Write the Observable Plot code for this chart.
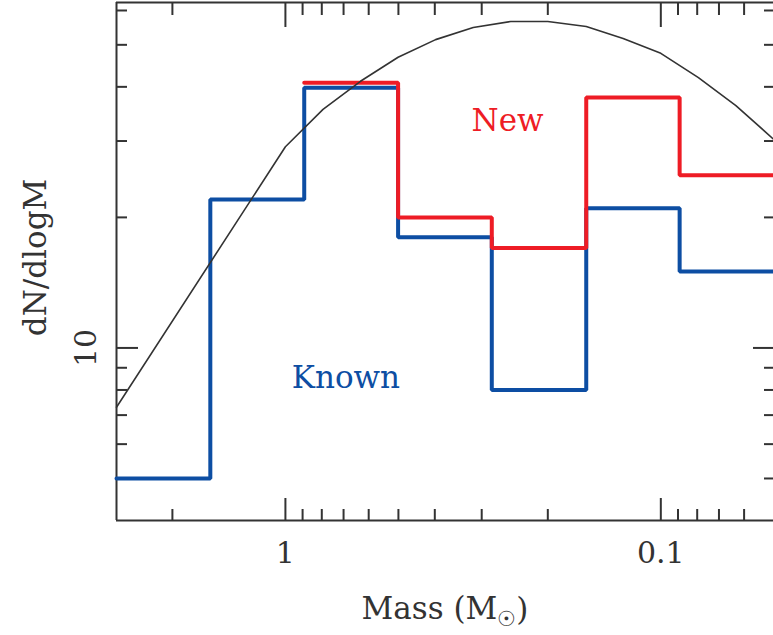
<!DOCTYPE html>
<html><head><meta charset="utf-8">
<script src="https://cdn.jsdelivr.net/npm/d3@7"></script>
<script src="https://cdn.jsdelivr.net/npm/@observablehq/plot@0.6"></script>
<style>body{margin:0;background:#fff} svg{display:block}</style>
</head><body><div id="chart"></div>
<script>
const massDomain = [2.818, 0.0501];
const countDomain = [4, 62.6];
const binEdges = [2.818, 1.585, 0.891, 0.501, 0.282, 0.158, 0.0891, 0.0501];
const knownCounts = [5.0, 22.0, 39.8, 18.0, 8.0, 21.0, 15.0];
const newCounts = [null, null, 40.9, 20.0, 17.0, 37.8, 25.0];
const imfMass = [2.818, 1, 0.794, 0.631, 0.501, 0.398, 0.316, 0.251, 0.2, 0.158, 0.126, 0.1, 0.0794, 0.0631, 0.0501];
const imfValue = [7.3, 29.1, 35.5, 41.2, 46.8, 51.4, 54.8, 56.6, 56.6, 55.1, 51.7, 47.8, 42.0, 36.2, 30.3];
const xMajorTicks = [1, 0.1];
const xMinorTicks = [2, 0.9, 0.8, 0.7, 0.6, 0.5, 0.4, 0.3, 0.2, 0.09, 0.08, 0.07, 0.06];
const yMajorTicks = [10];
const yMinorTicks = [5, 6, 7, 8, 9, 20, 30, 40, 50, 60];
const xTickLabels = ["1", "0.1"];
const yTickLabels = ["10"];
const seriesNames = ["Known", "New"];
const seriesColors = ["#0d4ea3", "#ee1c25"];
const labelMass = [0.69, 0.256];
const labelCount = [8.5, 33.3];

const FONT = "DejaVu Serif";
const INK = "#333";

function steps(counts) {
  const pts = [];
  counts.forEach((v, i) => {
    if (v == null) return;
    pts.push({m: binEdges[i], v}, {m: binEdges[i + 1], v});
  });
  return pts;
}
const imf = imfMass.map((m, i) => ({m, v: imfValue[i]}));
const labels = seriesNames.map((s, i) => ({s, m: labelMass[i], v: labelCount[i], c: seriesColors[i]}));

const tickOpts = {stroke: INK, strokeWidth: 2, tickFormat: () => "", label: null};

const chart = Plot.plot({
  width: 773, height: 635,
  marginLeft: 116, marginRight: 0, marginTop: 2, marginBottom: 115,
  style: {fontFamily: FONT, color: INK, background: "#fff"},
  x: {type: "log", domain: massDomain},
  y: {type: "log", domain: countDomain},
  marks: [
    Plot.axisX(xMinorTicks, {...tickOpts, anchor: "bottom", tickSize: -11}),
    Plot.axisX(xMajorTicks, {...tickOpts, anchor: "bottom", tickSize: -22}),
    Plot.axisX(xMinorTicks, {...tickOpts, anchor: "top", tickSize: -12}),
    Plot.axisX(xMajorTicks, {...tickOpts, anchor: "top", tickSize: -24}),
    Plot.axisY(yMinorTicks, {...tickOpts, anchor: "left", tickSize: -11}),
    Plot.axisY(yMajorTicks, {...tickOpts, anchor: "left", tickSize: -22}),
    Plot.axisY(yMinorTicks, {...tickOpts, anchor: "right", tickSize: -10}),
    Plot.axisY(yMajorTicks, {...tickOpts, anchor: "right", tickSize: -21}),
    Plot.ruleX([massDomain[0]], {stroke: INK, strokeWidth: 2}),
    Plot.ruleY(countDomain, {stroke: INK, strokeWidth: 2}),
    Plot.line(steps(knownCounts), {x: "m", y: "v", stroke: seriesColors[0], strokeWidth: 4, strokeLinejoin: "miter"}),
    Plot.line(steps(newCounts), {x: "m", y: "v", stroke: seriesColors[1], strokeWidth: 4, strokeLinejoin: "miter"}),
    Plot.line(imf, {x: "m", y: "v", stroke: INK, strokeWidth: 1.6}),
    Plot.text(labels, {x: "m", y: "v", text: "s", fill: "c", fontSize: 31, textAnchor: "middle", lineAnchor: "middle", style: "letter-spacing:1.5px"}),
    Plot.text(xMajorTicks, {x: d => d, text: (d, i) => xTickLabels[i], frameAnchor: "bottom", dy: 33, fontSize: 30, fill: INK, textAnchor: "middle", lineAnchor: "middle", style: "letter-spacing:1px"}),
    Plot.text(yMajorTicks, {y: d => d, text: (d, i) => yTickLabels[i], frameAnchor: "left", dx: -30, rotate: -90, fontSize: 30, fill: INK, textAnchor: "middle", lineAnchor: "middle", style: "letter-spacing:1px"}),
    Plot.text(["dN/dlogM"], {frameAnchor: "left", dx: -80, dy: -4, rotate: -90, fontSize: 31, fill: INK, textAnchor: "middle", lineAnchor: "middle", style: "letter-spacing:1.5px"}),
    Plot.text(["Mass (M☉)"], {frameAnchor: "bottom", dy: 89, fontSize: 31, fill: INK, textAnchor: "middle", lineAnchor: "middle", style: "letter-spacing:1.5px"})
  ]
});
document.getElementById("chart").appendChild(chart);

// subscript sun symbol in the x label
d3.select(chart).selectAll("text").each(function () {
  const t = this.textContent;
  if (t === "Mass (M☉)") {
    const el = d3.select(this);
    el.text(null);
    el.append("tspan").text("Mass (M");
    el.append("tspan").attr("font-size", 21).attr("dy", "0.3em").text("☉");
    el.append("tspan").attr("dy", "-0.2em").text(")");
  }
});
</script>
</body></html>
